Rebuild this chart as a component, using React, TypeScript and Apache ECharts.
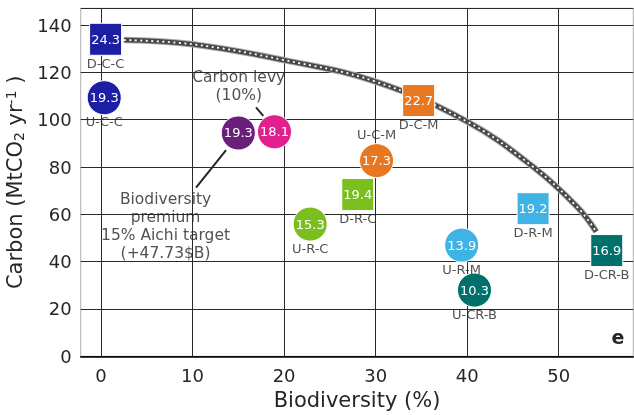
import { useEffect, useRef } from 'react';
import * as echarts from 'echarts';

// Scenario outcomes: biodiversity gain (%), carbon (MtCO2/yr) and cost label
const scenarioLabels = ['D-C-C', 'U-C-C', '', '', 'D-C-M', 'U-C-M', 'D-R-C', 'U-R-C', 'D-R-M', 'U-R-M', 'D-CR-B', 'U-CR-B'];
const biodiversity = [0.5, 0.35, 15.0, 18.95, 34.7, 30.1, 28.05, 22.85, 47.2, 39.4, 55.25, 40.8];
const carbon = [134.0, 109.3, 94.4, 94.9, 108.1, 82.7, 68.4, 55.9, 62.4, 47.0, 44.7, 28.0];
const cost = [24.3, 19.3, 19.3, 18.1, 22.7, 17.3, 19.4, 15.3, 19.2, 13.9, 16.9, 10.3];

// Efficiency frontier traced through the deterministic scenarios
const frontierBiodiversity = [2.5, 10, 20, 30, 40, 47.2, 52, 54.1];
const frontierCarbon = [133.7, 131.9, 125.2, 116.1, 99.2, 80.1, 63.2, 52.7];

const xTicks = [0, 10, 20, 30, 40, 50];

const palette = [
  '#1c1fa3', '#1c1fa3', '#6b1f7b', '#e11f8f', '#e87722', '#e87722',
  '#7bbf1f', '#7bbf1f', '#3fb4e4', '#3fb4e4', '#00706c', '#00706c',
];

const FONT = '"DejaVu Sans", sans-serif';
const INK = '#262626';

export default function App() {
  const ref = useRef<HTMLDivElement>(null);

  useEffect(() => {
    if (!ref.current) return;
    const chart = echarts.init(ref.current, undefined, { renderer: 'svg' });

    const points = biodiversity.map((b, i) => ({
      value: [b, carbon[i], cost[i]],
      symbol: scenarioLabels[i].startsWith('D') ? 'rect' : 'circle',
      symbolSize: scenarioLabels[i].startsWith('D') ? 32 : 34,
      itemStyle: { color: palette[i], borderColor: '#ffffff', borderWidth: 1, opacity: 1 },
    }));

    const nameTags = biodiversity
      .map((b, i) => ({
        value: [b, carbon[i]],
        label: {
          formatter: scenarioLabels[i],
          offset: [0, scenarioLabels[i] === 'U-C-M' ? -26 : 24],
        },
      }))
      .filter((_, i) => scenarioLabels[i] !== '');

    chart.setOption({
      animation: false,
      textStyle: { fontFamily: FONT },
      grid: {
        left: 80.7,
        right: 0.7,
        top: 8.3,
        bottom: 58.7,
        outerBoundsMode: 'none',
        containLabel: false,
        show: true,
        borderColor: '#b0b0b0',
        borderWidth: 1,
      },
      xAxis: {
        type: 'value',
        min: -2.22,
        max: 58.15,
        name: 'Biodiversity (%)',
        nameLocation: 'middle',
        nameGap: 33,
        nameTextStyle: { fontSize: 21, color: INK, fontFamily: FONT },
        axisLine: { show: true, onZero: false, lineStyle: { color: '#000000', width: 1.5 } },
        axisTick: { show: false, customValues: xTicks },
        axisLabel: { customValues: xTicks, fontSize: 18, color: INK, margin: 10, fontFamily: FONT },
        splitLine: { show: true, lineStyle: { color: '#2a2a2a', width: 1 } },
      },
      yAxis: {
        type: 'value',
        min: 0,
        max: 147.1,
        interval: 20,
        name: 'Carbon (MtCO{sub|2} yr{sup|-1} )',
        nameLocation: 'middle',
        nameGap: 56,
        nameTextStyle: {
          fontSize: 21,
          color: INK,
          fontFamily: FONT,
          lineHeight: 22,
          verticalAlign: 'middle',
          rich: {
            sub: { fontSize: 14, color: INK, fontFamily: FONT, lineHeight: 4, verticalAlign: 'bottom' },
            sup: { fontSize: 14, color: INK, fontFamily: FONT, lineHeight: 10, verticalAlign: 'top' },
          },
        },
        axisLine: { show: false },
        axisTick: { show: false },
        axisLabel: { fontSize: 18, color: INK, margin: 9, showMaxLabel: false, fontFamily: FONT },
        splitLine: { show: true, lineStyle: { color: '#2a2a2a', width: 1 } },
      },
      series: [
        {
          type: 'line',
          data: frontierBiodiversity.map((b, i) => [b, frontierCarbon[i]]),
          smooth: 0.4,
          symbol: 'none',
          silent: true,
          z: 2,
          lineStyle: { color: '#a8a8a8', width: 6.5, cap: 'butt' },
        },
        {
          type: 'line',
          data: frontierBiodiversity.map((b, i) => [b, frontierCarbon[i]]),
          smooth: 0.4,
          symbol: 'none',
          silent: true,
          z: 3,
          lineStyle: { color: '#474747', width: 4.5, cap: 'butt' },
        },
        {
          type: 'line',
          data: frontierBiodiversity.map((b, i) => [b, frontierCarbon[i]]),
          smooth: 0.4,
          symbol: 'none',
          silent: true,
          z: 4,
          lineStyle: { color: '#ffffff', width: 1.8, type: [2, 3.5], cap: 'butt' },
        },
        // Annotation leader lines
        {
          type: 'line',
          data: [[16.93, 105.2], [17.73, 101.6]],
          symbol: 'none',
          silent: true,
          z: 5,
          lineStyle: { color: '#262626', width: 2 },
        },
        {
          type: 'line',
          data: [[10.38, 71.3], [13.66, 87.2]],
          symbol: 'none',
          silent: true,
          z: 5,
          lineStyle: { color: '#262626', width: 2 },
        },
        {
          type: 'scatter',
          data: points,
          z: 10,
          silent: true,
          label: {
            show: true,
            position: 'inside',
            formatter: (p: any) => p.value[2].toFixed(1),
            color: '#ffffff',
            fontSize: 13,
            fontFamily: FONT,
          },
        },
        {
          type: 'scatter',
          data: nameTags,
          symbolSize: 0,
          z: 11,
          silent: true,
          label: {
            show: true,
            position: 'inside',
            color: INK,
            fontSize: 13,
            fontFamily: FONT,
          },
        },
        {
          type: 'scatter',
          data: [
            { value: [15.05, 114.2], label: { formatter: 'Carbon levy\n(10%)' } },
            { value: [7.05, 54.9], label: { formatter: 'Biodiversity\npremium\n15% Aichi target\n(+47.73$B)' } },
          ],
          symbolSize: 0,
          z: 11,
          silent: true,
          label: {
            show: true,
            position: 'inside',
            color: INK,
            fontSize: 15.5,
            lineHeight: 18,
            align: 'center',
            fontFamily: FONT,
          },
        },
      ],
      graphic: [
        {
          type: 'text',
          x: 618,
          y: 337,
          style: {
            text: 'e',
            fill: INK,
            font: `bold 19px ${FONT}`,
            align: 'center',
            verticalAlign: 'middle',
          },
        },
      ],
    });

    return () => chart.dispose();
  }, []);

  return (
    <div
      ref={ref}
      style={{ position: 'fixed', left: 0, top: 0, width: 634, height: 415 }}
    />
  );
}
